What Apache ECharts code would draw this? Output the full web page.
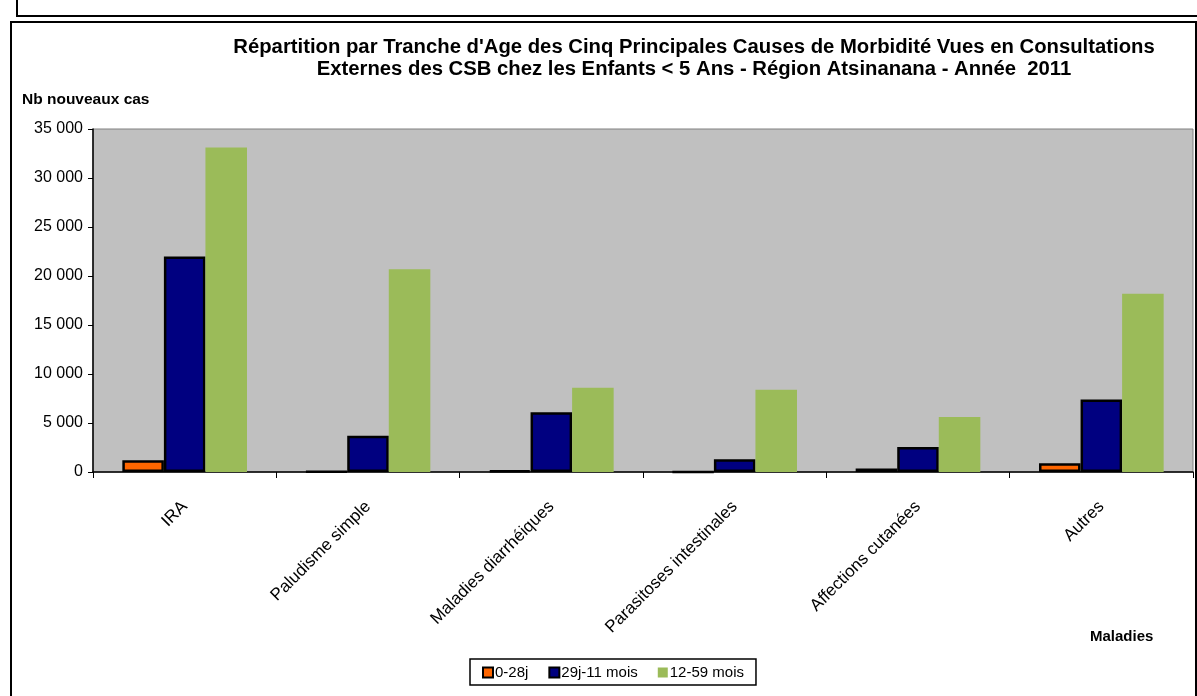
<!DOCTYPE html>
<html>
<head>
<meta charset="utf-8">
<script src="https://cdn.jsdelivr.net/npm/echarts@6/dist/echarts.min.js"></script>
<style>
html,body{margin:0;padding:0;background:#fff;}
#c{width:1197px;height:696px;}
</style>
</head>
<body>
<div id="c"></div>
<script>
const categories = ['IRA', 'Paludisme simple', 'Maladies diarrhéiques', 'Parasitoses intestinales', 'Affections cutanées', 'Autres'];
const seriesNames = ['0-28j', '29j-11 mois', '12-59 mois'];
const v0_28j = [1200, 50, 150, 10, 350, 900];
const v29j_11m = [22000, 3700, 6100, 1300, 2550, 7400];
const v12_59m = [33100, 20700, 8600, 8400, 5600, 18200];
const yTicks = [0, 5000, 10000, 15000, 20000, 25000, 30000, 35000];

const FONT = '"Liberation Sans", Arial, sans-serif';
const chart = echarts.init(document.getElementById('c'));

function fmt(v){ return String(v).replace(/\B(?=(\d{3})+(?!\d))/g, ' '); }

const option = {
  animation: false,
  backgroundColor: '#fff',
  textStyle: { fontFamily: FONT },
  title: {
    text: "Répartition par Tranche d'Age des Cinq Principales Causes de Morbidité Vues en Consultations\nExternes des CSB chez les Enfants < 5 Ans - Région Atsinanana - Année  2011",
    left: 689, top: 31, textAlign: 'center',
    textStyle: { fontFamily: FONT, fontSize: 20.3, fontWeight: 'bold', color: '#000', lineHeight: 22 }
  },
  legend: {
    data: seriesNames,
    left: 470, top: 659,
    padding: [6, 12, 5, 12],
    borderColor: '#000', borderWidth: 1.5,
    itemWidth: 10, itemHeight: 10, itemGap: 20,
    icon: 'rect',
    textStyle: { fontFamily: FONT, fontSize: 15, color: '#000', padding: [0, 0, 0, -3] }
  },
  grid: { left: 93, right: 4, top: 129, bottom: 224, show: true, backgroundColor: '#C0C0C0', borderColor: '#808080', borderWidth: 1 },
  xAxis: {
    type: 'category', data: categories,
    axisLine: { lineStyle: { color: '#000', width: 1.5 } },
    axisTick: { show: true, alignWithLabel: false, length: 6, lineStyle: { color: '#000' } },
    axisLabel: { rotate: 45, fontFamily: FONT, fontSize: 17, color: '#000', margin: 32, interval: 0 }
  },
  yAxis: {
    type: 'value', min: 0, max: 35000, interval: 5000,
    splitLine: { show: false },
    axisLine: { show: true, lineStyle: { color: '#000', width: 1.5 } },
    axisTick: { show: true, length: 5, lineStyle: { color: '#000' } },
    axisLabel: { fontFamily: FONT, fontSize: 16, color: '#000', margin: 10, formatter: v => yTicks.includes(v) ? fmt(v) : '' }
  },
  graphic: [
    { type: 'text', left: 22, top: 92, style: { text: 'Nb nouveaux cas', font: 'bold 15.5px ' + FONT, fill: '#000' } },
    { type: 'text', left: 1090, top: 629, style: { text: 'Maladies', font: 'bold 15px ' + FONT, fill: '#000' } },
    { type: 'polyline', shape: { points: [[17, 0], [17, 16], [1197, 16]] }, style: { stroke: '#000', lineWidth: 2, fill: null } },
    { type: 'polyline', shape: { points: [[11, 696], [11, 22], [1196, 22], [1196, 696]] }, style: { stroke: '#000', lineWidth: 2, fill: null } }
  ],
  series: [
    { name: seriesNames[0], type: 'bar', data: v0_28j, barGap: '0%', barCategoryGap: '32%',
      itemStyle: { color: '#FF6600', borderColor: '#000', borderWidth: 2.5 } },
    { name: seriesNames[1], type: 'bar', data: v29j_11m, barGap: '0%', barCategoryGap: '32%',
      itemStyle: { color: '#000080', borderColor: '#000', borderWidth: 2.5 } },
    { name: seriesNames[2], type: 'bar', data: v12_59m, barGap: '0%', barCategoryGap: '32%',
      itemStyle: { color: '#9BBB59' } }
  ]
};
chart.setOption(option);
</script>
</body>
</html>
